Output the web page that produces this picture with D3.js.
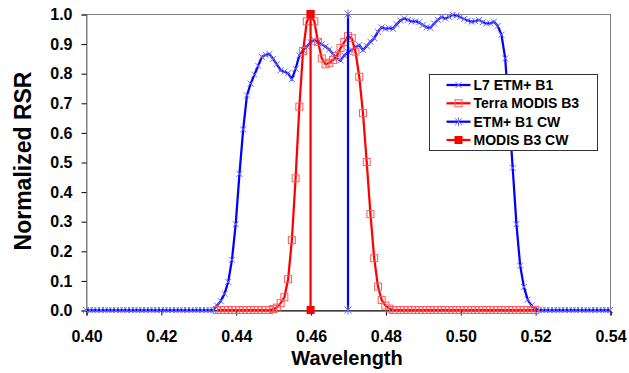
<!DOCTYPE html>
<html>
<head>
<meta charset="utf-8">
<script src="https://cdn.jsdelivr.net/npm/d3@7"></script>
<style>
  html, body { margin: 0; padding: 0; background: #fff; }
  svg { display: block; font-family: "Liberation Sans", Arial, sans-serif; font-weight: bold; }
</style>
</head>
<body>
<svg id="chart" width="629" height="373"></svg>
<script>
// Landsat-7 ETM+ band 1 relative spectral response, 1 nm steps from 400 nm to 540 nm
const etmStart = 400;
const etmB1 = [
  0, 0, 0, 0, 0, 0, 0, 0, 0, 0,            // 400-409
  0, 0, 0, 0, 0, 0, 0, 0, 0, 0,            // 410-419
  0, 0, 0, 0, 0, 0, 0, 0, 0, 0,            // 420-429
  0, 0, 0, 0, 0, 0.015, 0.03, 0.055, 0.095, 0.17,            // 430-439
  0.29, 0.46, 0.61, 0.725, 0.765, 0.795, 0.825, 0.855, 0.862, 0.865, // 440-449
  0.848, 0.83, 0.81, 0.805, 0.80, 0.78, 0.815, 0.86, 0.878, 0.89,    // 450-459
  0.905, 0.912, 0.905, 0.898, 0.89, 0.88, 0.865, 0.85, 0.843, 0.86,  // 460-469
  0.872, 0.878, 0.888, 0.895, 0.878, 0.892, 0.906, 0.918, 0.94, 0.955, // 470-479
  0.95, 0.952, 0.95, 0.965, 0.978, 0.985, 0.98, 0.975, 0.975, 0.972, // 480-489
  0.963, 0.955, 0.953, 0.968, 0.98, 0.99, 0.985, 0.99, 0.997, 0.995, // 490-499
  0.99, 0.983, 0.978, 0.974, 0.976, 0.98, 0.972, 0.968, 0.968, 0.974, // 500-509
  0.96, 0.93, 0.85, 0.67, 0.48, 0.29, 0.15, 0.078, 0.035, 0.015,     // 510-519
  0.005, 0, 0, 0, 0, 0, 0, 0, 0, 0,        // 520-529
  0, 0, 0, 0, 0, 0, 0, 0, 0, 0,            // 530-539
  0                                        // 540
];

// Terra MODIS band 3 relative spectral response, 1 nm steps from 435 nm to 520 nm
const modisStart = 435;
const modisB3 = [
  0, 0, 0, 0, 0,                           // 435-439
  0, 0, 0, 0, 0, 0, 0, 0, 0, 0,            // 440-449
  0.003, 0.008, 0.023, 0.043, 0.104, 0.236, 0.445, 0.687, 0.875, 0.975, // 450-459
  1.0, 0.975, 0.905, 0.85, 0.83, 0.835, 0.845, 0.858, 0.885, 0.905,    // 460-469
  0.925, 0.918, 0.873, 0.788, 0.665, 0.50, 0.324, 0.175, 0.079, 0.034, // 470-479
  0.015, 0.005, 0, 0, 0, 0, 0, 0, 0, 0,    // 480-489
  0, 0, 0, 0, 0, 0, 0, 0, 0, 0,            // 490-499
  0, 0, 0, 0, 0, 0, 0, 0, 0, 0,            // 500-509
  0, 0, 0, 0, 0, 0, 0, 0, 0, 0,            // 510-519
  0                                        // 520
];

// Band centre wavelengths (µm), drawn as vertical lines from 0 to 1
const etmCW = 0.47;
const modisCW = 0.46;
const cwValues = [0, 1];

const xTicks = [0.40, 0.42, 0.44, 0.46, 0.48, 0.50, 0.52, 0.54];
const yTicks = [0.0, 0.1, 0.2, 0.3, 0.4, 0.5, 0.6, 0.7, 0.8, 0.9, 1.0];

const legendLabels = ["L7 ETM+ B1", "Terra MODIS B3", "ETM+ B1 CW", "MODIS B3 CW"];

const toSeries = (start, vals) => vals.map((v, i) => ({ x: (start + i) / 1000, y: v }));
const etmData = toSeries(etmStart, etmB1);
const modisData = toSeries(modisStart, modisB3);
const etmCWData = cwValues.map(v => ({ x: etmCW, y: v }));
const modisCWData = cwValues.map(v => ({ x: modisCW, y: v }));

const BLUE = "#0000ff", RED = "#ff0000";
const BLUE_MK = "#6a6aff", RED_MK = "#ff5a5a";

const svg = d3.select("#chart");
const plot = { left: 86, top: 14, right: 610, bottom: 310 };

const x = d3.scaleLinear().domain([0.40, 0.54]).range([plot.left, plot.right]);
const y = d3.scaleLinear().domain([0, 1]).range([plot.bottom, plot.top]);

// plot area frame
svg.append("rect")
  .attr("x", plot.left + 0.5).attr("y", plot.top + 0.5)
  .attr("width", plot.right - plot.left).attr("height", plot.bottom - plot.top)
  .attr("fill", "#fff").attr("stroke", "#808080").attr("stroke-width", 1);

// axes
const yAxis = svg.append("g")
  .attr("transform", `translate(${plot.left + 0.5},0.5)`)
  .call(d3.axisLeft(y).tickValues(yTicks).tickFormat(d3.format(".1f")).tickSize(5).tickPadding(9));
yAxis.select(".domain").attr("stroke", "#808080");
yAxis.selectAll(".tick line").attr("stroke", "#000");

const xAxis = svg.append("g")
  .attr("transform", `translate(0.5,${plot.bottom + 0.5})`)
  .call(d3.axisBottom(x).tickValues(xTicks).tickFormat(d3.format(".2f")).tickSize(5).tickPadding(15));
xAxis.select(".domain").attr("stroke", "#000");
xAxis.selectAll(".tick line").attr("stroke", "#000");

svg.selectAll(".tick text")
  .attr("font-family", "'Liberation Sans', Arial, sans-serif")
  .attr("font-weight", "bold").attr("font-size", 16).attr("fill", "#000");

// axis titles
svg.append("text")
  .attr("x", 347).attr("y", 365)
  .attr("text-anchor", "middle").attr("font-size", 20).attr("fill", "#000")
  .text("Wavelength");
svg.append("text")
  .attr("transform", "translate(31,161) rotate(-90)")
  .attr("text-anchor", "middle").attr("font-size", 23).attr("fill", "#000")
  .text("Normalized RSR");

const line = d3.line().x(d => x(d.x)).y(d => y(d.y));

// marker painters
function crossMarker(g, cx, cy, r, color) {
  g.append("path")
    .attr("d", `M${cx - r},${cy - r}L${cx + r},${cy + r}M${cx - r},${cy + r}L${cx + r},${cy - r}`)
    .attr("stroke", color).attr("stroke-width", 1).attr("fill", "none");
}
function starMarker(g, cx, cy, r, color) {
  crossMarker(g, cx, cy, r, color);
  g.append("path")
    .attr("d", `M${cx},${cy - r - 1}L${cx},${cy + r + 1}`)
    .attr("stroke", color).attr("stroke-width", 1);
}
function openSquare(g, cx, cy, s, color) {
  g.append("rect")
    .attr("x", cx - s / 2).attr("y", cy - s / 2).attr("width", s).attr("height", s)
    .attr("fill", "none").attr("stroke", color).attr("stroke-width", 1);
}
function filledSquare(g, cx, cy, s, color) {
  g.append("rect")
    .attr("x", cx - s / 2).attr("y", cy - s / 2).attr("width", s).attr("height", s)
    .attr("fill", color).attr("stroke", "none");
}

// L7 ETM+ B1
const gEtm = svg.append("g");
gEtm.append("path").datum(etmData).attr("d", line)
  .attr("fill", "none").attr("stroke", BLUE).attr("stroke-width", 2.25);
etmData.forEach(d => crossMarker(gEtm, x(d.x), y(d.y), 3, BLUE_MK));

// Terra MODIS B3
const gModis = svg.append("g");
gModis.append("path").datum(modisData).attr("d", line)
  .attr("fill", "none").attr("stroke", RED).attr("stroke-width", 2.25);
modisData.forEach(d => openSquare(gModis, x(d.x), y(d.y), 7, RED_MK));

// ETM+ B1 centre wavelength
const gEtmCW = svg.append("g");
gEtmCW.append("path").datum(etmCWData).attr("d", line)
  .attr("fill", "none").attr("stroke", BLUE).attr("stroke-width", 2.25);
etmCWData.forEach(d => starMarker(gEtmCW, x(d.x), y(d.y), 3.5, BLUE_MK));

// MODIS B3 centre wavelength
const gModisCW = svg.append("g");
gModisCW.append("path").datum(modisCWData).attr("d", line)
  .attr("fill", "none").attr("stroke", RED).attr("stroke-width", 2.25);
modisCWData.forEach(d => filledSquare(gModisCW, x(d.x), y(d.y), 8, RED));

// legend
const lg = svg.append("g").attr("transform", "translate(429.5,74.5)");
lg.append("rect").attr("width", 168).attr("height", 76)
  .attr("fill", "#fff").attr("stroke", "#333").attr("stroke-width", 1);
const rowY = [10.5, 28.8, 47.2, 65.5];
const painters = [
  (g, cx, cy) => crossMarker(g, cx, cy, 3, BLUE_MK),
  (g, cx, cy) => openSquare(g, cx, cy, 7, RED_MK),
  (g, cx, cy) => starMarker(g, cx, cy, 3.5, BLUE_MK),
  (g, cx, cy) => filledSquare(g, cx, cy, 8, RED)
];
const lineColors = [BLUE, RED, BLUE, RED];
legendLabels.forEach((label, i) => {
  const row = lg.append("g");
  row.append("line").attr("x1", 17).attr("x2", 41).attr("y1", rowY[i]).attr("y2", rowY[i])
    .attr("stroke", lineColors[i]).attr("stroke-width", 2.25);
  painters[i](row, 29, rowY[i]);
  row.append("text").attr("x", 44).attr("y", rowY[i] + 5)
    .attr("font-size", 14).attr("fill", "#000").text(label);
});
</script>
</body>
</html>
